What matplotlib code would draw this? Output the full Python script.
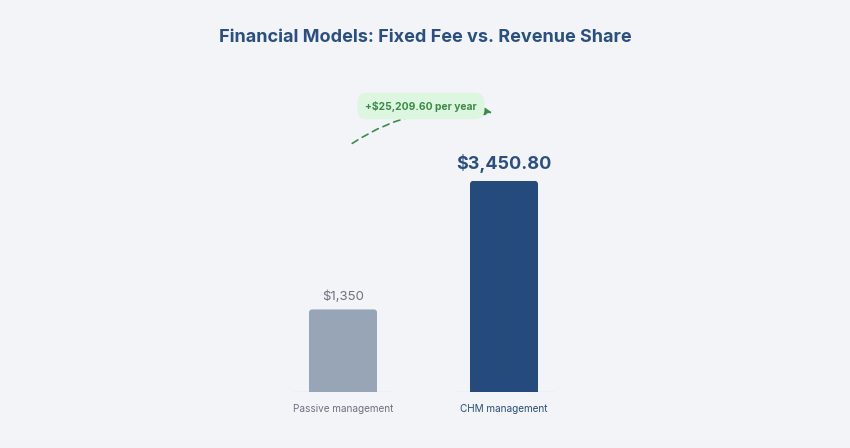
import matplotlib.pyplot as plt
from matplotlib.patches import FancyBboxPatch

# chart data
categories = ["Passive management", "CHM management"]
values = [1350, 3450.80]
value_labels = ["$1,350", "$3,450.80"]
title = "Financial Models: Fixed Fee vs. Revenue Share"
callout = "+$25,209.60 per year"

bg = "#f3f4f7"
bar_colors = ["#97a5b6", "#244b7c"]
tick_colors = ["#6b7280", "#2b4d7f"]
navy = "#2a4f82"
green = "#3d8b4a"

plt.rcParams['font.family'] = ['Inter', 'DejaVu Sans']

fig = plt.figure(figsize=(8.5, 4.48), dpi=100, facecolor=bg)
ax = fig.add_axes([0, 56 / 448, 1, 392 / 448])
ax.set_facecolor(bg)

x = list(range(len(categories)))
ax.set_xlim(-343 / 161, 1 + (850 - 504) / 161)
ax.set_ylim(0, 3450.8 * 392 / 211)

# bars, with a rounded cap on top
width = 68 / 161
px_x = 1 / 161
px_y = 3450.8 / 211
for xi, v, c in zip(x, values, bar_colors):
    ax.bar(xi, v - 8 * px_y, width=width, color=c, zorder=2)
    cap = FancyBboxPatch((xi - width / 2, v - 16 * px_y), width, 16 * px_y,
                         boxstyle=f"round,pad=0,rounding_size={3 * px_x}",
                         mutation_aspect=px_y / px_x,
                         fc=c, ec="none", zorder=2)
    ax.add_patch(cap)

# short baseline under each bar
for xi in x:
    ax.hlines(0, xi - 0.31, xi + 0.31, color="#dadde3", lw=1, zorder=1)

# value labels
ax.text(x[0], values[0] + 110, value_labels[0], ha="center", va="bottom",
        fontsize=9.5, color="#6b7280")
ax.text(x[1], values[1] + 130, value_labels[1], ha="center", va="bottom",
        fontsize=13, fontweight="bold", color=navy)

# category labels
for xi, lab, c in zip(x, categories, tick_colors):
    ax.text(xi, -270, lab, ha="center", va="center", fontsize=7.2, color=c)

# dashed curved arrow + callout pill
ax.annotate("", xy=(0.944, 4560), xytext=(0.043, 4040),
            arrowprops=dict(arrowstyle="-|>", color=green, lw=1.2,
                            linestyle=(0, (4, 3)),
                            connectionstyle="arc3,rad=-0.2",
                            mutation_scale=11),
            zorder=3)
ax.text(0.484, 4677, callout, ha="center", va="center", fontsize=7.4,
        fontweight="bold", color=green, zorder=4,
        bbox=dict(boxstyle="round,pad=0.75,rounding_size=0.95",
                  fc="#dcf6df", ec="none"))

ax.axis("off")

fig.text(0.5, 1 - 38 / 448, title, ha="center", va="center",
         fontsize=13, fontweight="bold", color=navy)

fig.savefig("out.png", dpi=100, facecolor=bg)
